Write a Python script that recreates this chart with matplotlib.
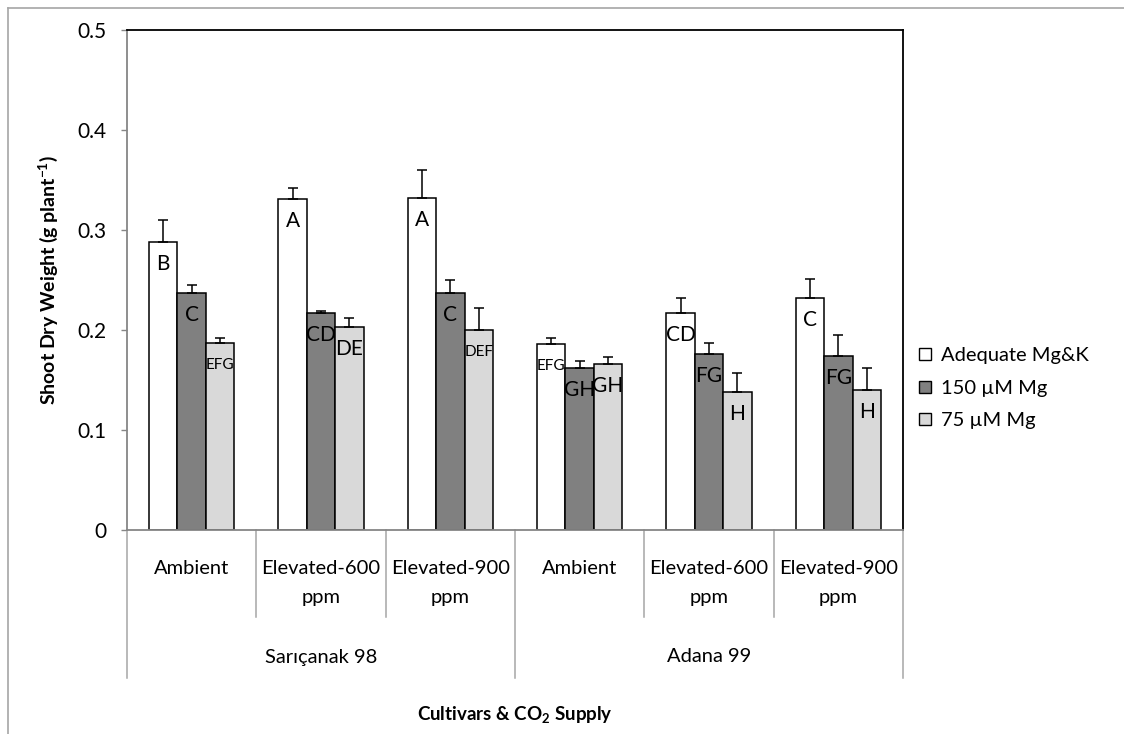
import matplotlib
matplotlib.use("Agg")
import matplotlib.pyplot as plt
from matplotlib.lines import Line2D
import numpy as np

plt.rcParams['font.family'] = ['Lato', 'DejaVu Sans']
plt.rcParams['mathtext.fontset'] = 'custom'
plt.rcParams['mathtext.rm'] = 'Lato'
plt.rcParams['mathtext.bf'] = 'Lato:bold'

# ---------------- data ----------------
categories = ["Ambient", "Elevated-600\nppm", "Elevated-900\nppm",
              "Ambient", "Elevated-600\nppm", "Elevated-900\nppm"]
cultivars = ["Sarıçanak 98", "Adana 99"]
series_names = ["Adequate Mg&K", "150 µM Mg", "75 µM Mg"]

adequate = [0.288, 0.331, 0.332, 0.186, 0.217, 0.232]
mg150 = [0.237, 0.217, 0.237, 0.162, 0.176, 0.174]
mg75 = [0.187, 0.203, 0.200, 0.166, 0.138, 0.140]

adequate_err = [0.022, 0.011, 0.028, 0.006, 0.015, 0.019]
mg150_err = [0.008, 0.002, 0.013, 0.007, 0.011, 0.021]
mg75_err = [0.005, 0.009, 0.022, 0.007, 0.019, 0.022]

adequate_lbl = ["B", "A", "A", "EFG", "CD", "C"]
mg150_lbl = ["C", "CD", "C", "GH", "FG", "FG"]
mg75_lbl = ["EFG", "DE", "DEF", "GH", "H", "H"]

yticks = [0, 0.1, 0.2, 0.3, 0.4, 0.5]
ytick_labels = ["0", "0.1", "0.2", "0.3", "0.4", "0.5"]

# ---------------- figure ----------------
W, H = 1124, 734
fig = plt.figure(figsize=(W / 100, H / 100), dpi=100)
ax = fig.add_axes([127 / W, 1 - 530 / H, (903 - 127) / W, 500 / H])

colors = ["#FFFFFF", "#808080", "#D9D9D9"]
vals = [adequate, mg150, mg75]
errs = [adequate_err, mg150_err, mg75_err]
lbls = [adequate_lbl, mg150_lbl, mg75_lbl]
width = 0.22
x = np.arange(len(categories))

for k in range(3):
    xs = x + (k - 1) * width
    ax.bar(xs, vals[k], width, color=colors[k], edgecolor="black",
           linewidth=1.1, zorder=2)
    ax.errorbar(xs, vals[k], yerr=[np.zeros(len(x)), errs[k]], fmt="none",
                ecolor="black", elinewidth=1.1, capsize=3.6, capthick=1.1,
                zorder=3)
    for xi, v, t in zip(xs, vals[k], lbls[k]):
        fs = 11 if len(t) == 3 else 15
        ax.annotate(t, (xi, v), xytext=(0, -16), textcoords="offset points",
                    ha="center", va="center", fontsize=fs, zorder=4)

ax.set_xlim(-0.5, len(categories) - 0.5)
ax.set_ylim(0, 0.5)
ax.set_yticks(yticks)
ax.set_yticklabels(ytick_labels)
ax.set_xticks([])
ax.tick_params(axis="y", direction="out", length=4, width=1, color="#868686",
               labelsize=15, pad=11)

for s in ["left", "bottom"]:
    ax.spines[s].set_color("#868686")
    ax.spines[s].set_linewidth(1.3)
for s in ["top", "right"]:
    ax.spines[s].set_color("black")
    ax.spines[s].set_linewidth(1.3)

ax.set_ylabel(r"Shoot Dry Weight (g plant$^{\mathbf{-1}}$)", fontsize=14,
              fontweight="bold", labelpad=12)

# category labels
tr = ax.get_xaxis_transform()
for i, c in enumerate(categories):
    lines = c.split("\n")
    for j, ln in enumerate(lines):
        ax.text(i, -0.076 - 0.058 * j, ln, transform=tr, ha="center",
                va="center", fontsize=14.5)
for g, name in enumerate(cultivars):
    ax.text(g * 3 + 1, -0.254, name, transform=tr, ha="center",
            va="center", fontsize=14.5)

# separators
for b in np.arange(-0.5, len(categories), 1.0):
    long_line = (b + 0.5) % 3 == 0
    ax.plot([b, b], [0, -0.296 if long_line else -0.174], transform=tr,
            color="#A6A6A6", linewidth=1.1, clip_on=False)

fig.text(515 / W, 1 - 715 / H, r"Cultivars & CO$_\mathbf{2}$ Supply",
         ha="center", va="center", fontsize=13.5, fontweight="bold")

# legend
handles = [Line2D([], [], linestyle="none", marker="s", markersize=9,
                  markerfacecolor=c, markeredgecolor="black",
                  markeredgewidth=1.0) for c in colors]
fig.legend(handles, series_names, loc="center left",
           bbox_to_anchor=(899 / W, 1 - 388 / H), frameon=False,
           fontsize=14.5, handlelength=0.8, handletextpad=0.4,
           labelspacing=0.75)

# outer border (top & left visible)
fig.add_artist(Line2D([8 / W, 8 / W], [0, 1 - 8 / H], color="#A6A6A6",
                      linewidth=1.2, transform=fig.transFigure))
fig.add_artist(Line2D([8 / W, 1], [1 - 8 / H, 1 - 8 / H], color="#A6A6A6",
                      linewidth=1.2, transform=fig.transFigure))

fig.savefig("out.png", dpi=100)
